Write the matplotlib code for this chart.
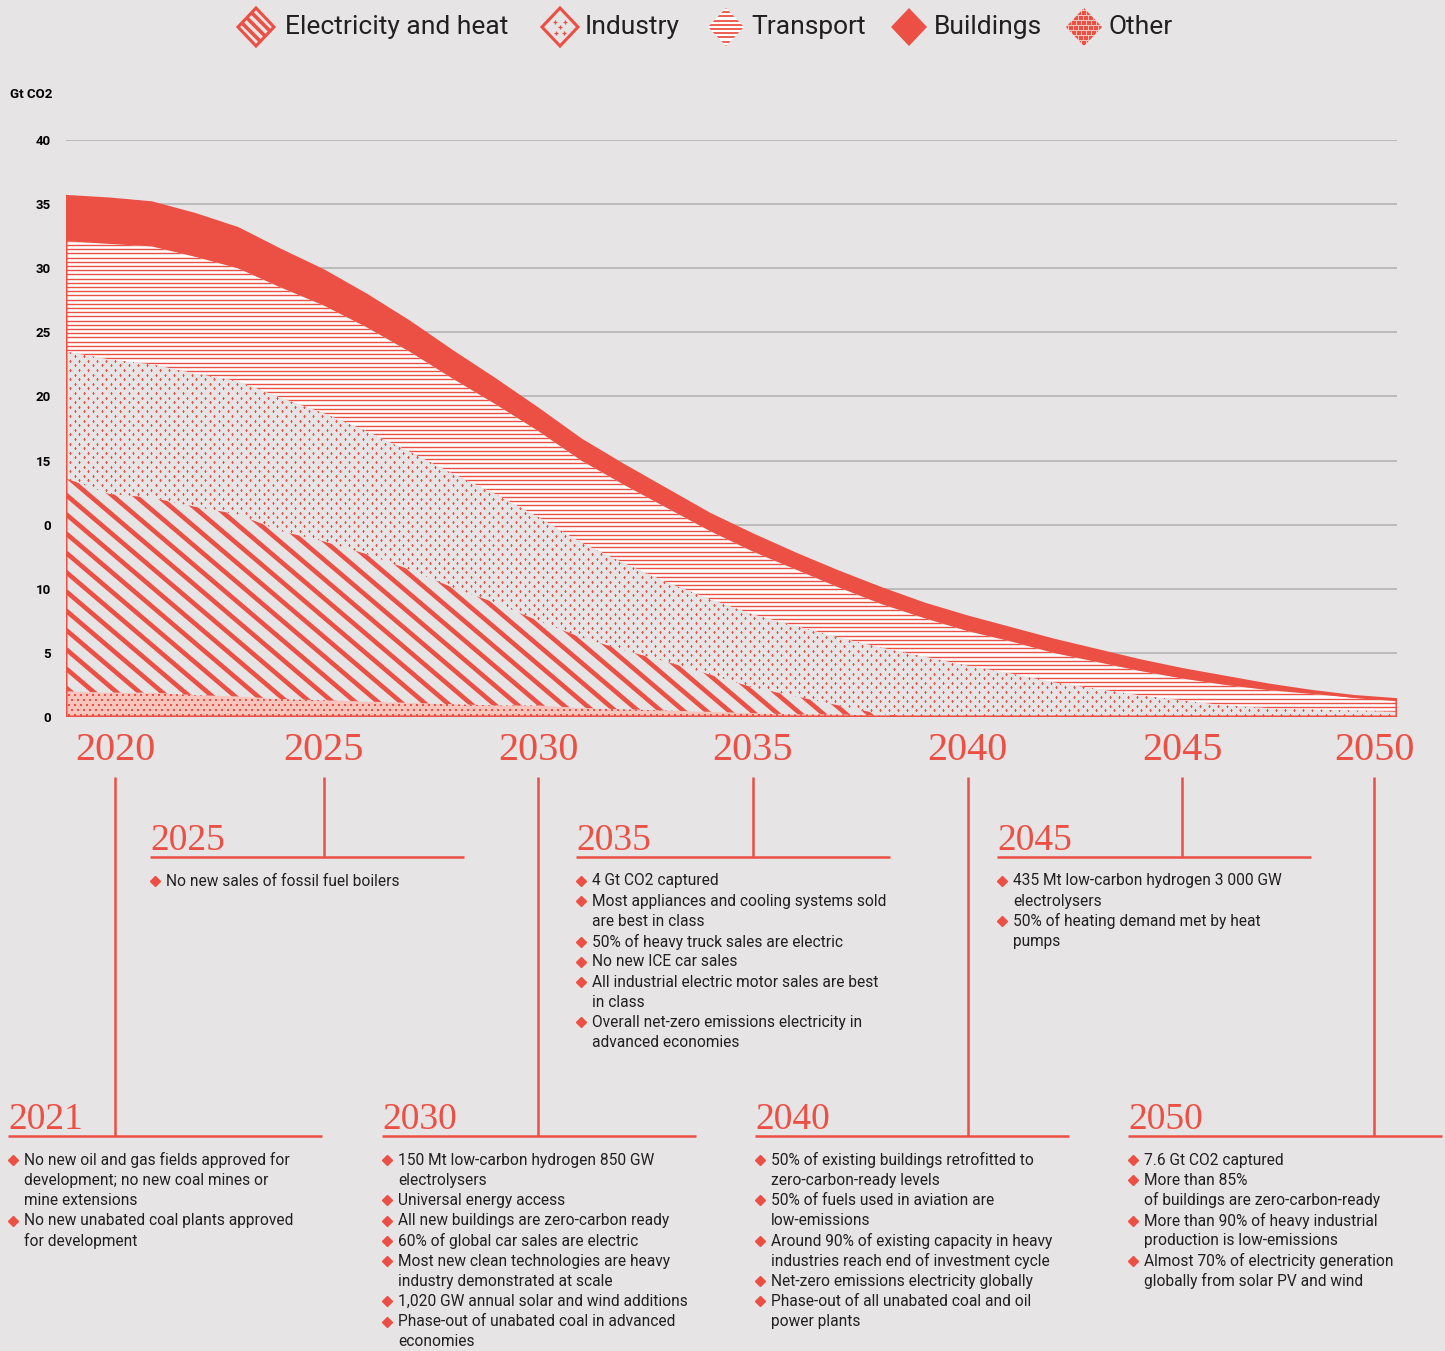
import numpy as np
import matplotlib.pyplot as plt
from matplotlib.patches import Polygon
from matplotlib.collections import LineCollection

W, H = 1445, 1351
RED = '#ec5044'
PINK = '#f8c4bc'
BG = '#e6e4e5'
INK = '#231f20'
GRID = '#b0afb0'

# ---- data (Gt CO2, axis units) ----
years = list(range(2019, 2051))
other = [2.0, 1.9, 1.9, 1.7, 1.6, 1.4, 1.3, 1.2, 1.1, 1.0, 0.9, 0.9, 0.7, 0.6, 0.5, 0.4,
         0.3, 0.2, 0.2, 0.1, 0, 0, 0, 0, 0, 0, 0, 0, 0, 0, 0, 0]
electricity = [16.6, 15.5, 15.2, 14.7, 14.2, 13.1, 12.4, 11.5, 10.4, 9.1, 8.0, 6.6, 5.5, 4.6,
               3.8, 2.9, 2.0, 1.4, 0.7, 0.1, 0, 0, 0, 0, 0, 0, 0, 0, 0, 0, 0, 0]
industry = [9.9, 10.5, 10.4, 10.4, 10.4, 10.4, 10.0, 9.6, 9.2, 8.9, 8.5, 8.1, 7.4, 6.8, 6.2,
            5.9, 5.7, 5.5, 5.3, 5.2, 4.7, 4.0, 3.4, 2.7, 2.2, 1.7, 1.3, 0.9, 0.7, 0.6, 0.5, 0.4]
transport = [8.6, 9.0, 9.2, 9.1, 8.8, 8.6, 8.4, 8.1, 7.8, 7.4, 7.0, 6.7, 6.4, 6.1, 5.8, 5.3,
             4.9, 4.4, 3.9, 3.4, 3.0, 2.7, 2.5, 2.3, 2.1, 1.9, 1.7, 1.6, 1.4, 1.2, 1.0, 0.9]
buildings = [3.5, 3.5, 3.4, 3.3, 3.1, 2.9, 2.7, 2.5, 2.3, 2.1, 1.9, 1.7, 1.6, 1.5, 1.4, 1.3,
             1.3, 1.2, 1.2, 1.2, 1.1, 1.1, 1.0, 1.0, 0.9, 0.8, 0.7, 0.6, 0.4, 0.2, 0.1, 0.05]

legend_names = ['Electricity and heat', 'Industry', 'Transport', 'Buildings', 'Other']
y_ticks = [0, 5, 10, 15, 20, 25, 30, 35, 40, 45]
y_tick_labels = ['0', '5', '10', '0', '15', '20', '25', '30', '35', '40']
milestone_years = [2020, 2025, 2030, 2035, 2040, 2045, 2050]
label_shift = {2020: 6, 2050: -23}   # px nudges of the year labels

# (heading, year tick it hangs from, row, left px, bullets)
blocks = [
    ('2021', 2020, 'low', 8, [
        ['No new oil and gas fields approved for', 'development; no new coal mines or', 'mine extensions'],
        ['No new unabated coal plants approved', 'for development']]),
    ('2025', 2025, 'high', 150, [
        ['No new sales of fossil fuel boilers']]),
    ('2030', 2030, 'low', 382, [
        ['150 Mt low-carbon hydrogen 850 GW', 'electrolysers'],
        ['Universal energy access'],
        ['All new buildings are zero-carbon ready'],
        ['60% of global car sales are electric'],
        ['Most new clean technologies are heavy', 'industry demonstrated at scale'],
        ['1,020 GW annual solar and wind additions'],
        ['Phase-out of unabated coal in advanced', 'economies']]),
    ('2035', 2035, 'high', 576, [
        ['4 Gt CO2 captured'],
        ['Most appliances and cooling systems sold', 'are best in class'],
        ['50% of heavy truck sales are electric'],
        ['No new ICE car sales'],
        ['All industrial electric motor sales are best', 'in class'],
        ['Overall net-zero emissions electricity in', 'advanced economies']]),
    ('2040', 2040, 'low', 755, [
        ['50% of existing buildings retrofitted to', 'zero-carbon-ready levels'],
        ['50% of fuels used in aviation are', 'low-emissions'],
        ['Around 90% of existing capacity in heavy', 'industries reach end of investment cycle'],
        ['Net-zero emissions electricity globally'],
        ['Phase-out of all unabated coal and oil', 'power plants']]),
    ('2045', 2045, 'high', 997, [
        ['435 Mt low-carbon hydrogen 3 000 GW', 'electrolysers'],
        ['50% of heating demand met by heat', 'pumps']]),
    ('2050', 2050, 'low', 1128, [
        ['7.6 Gt CO2 captured'],
        ['More than 85%', 'of buildings are zero-carbon-ready'],
        ['More than 90% of heavy industrial', 'production is low-emissions'],
        ['Almost 70% of electricity generation', 'globally from solar PV and wind']]),
]
row_y = {'high': 857, 'low': 1136}

plt.rcParams['font.family'] = ['Roboto', 'DejaVu Sans']
SERIF = ['Liberation Serif', 'DejaVu Serif']

fig = plt.figure(figsize=(W / 100, H / 100), dpi=100, facecolor=BG)
ax = fig.add_axes([66 / W, 1 - 717 / H, 1331 / W, 577 / H])
ax.set_facecolor(BG)
ov = fig.add_axes([0, 0, 1, 1])
ov.patch.set_visible(False)
ov.axis('off')

# stacked areas
layers = np.array([other, electricity, industry, transport, buildings], dtype=float)
cum = np.vstack([np.zeros(len(years)), np.cumsum(layers, axis=0)])
fills = [PINK, BG, BG, 'white', RED]
polys = []
for i in range(5):
    polys.append(ax.fill_between(years, cum[i], cum[i + 1], facecolor=fills[i],
                                 edgecolor='none', zorder=2))
ax.fill_between(years, 0, cum[-1], facecolor='none', edgecolor=RED, lw=2.2, zorder=4)

ax.set_xlim(2019, 2050)
ax.set_ylim(0, 45)
ax.set_yticks(y_ticks, y_tick_labels)
ax.set_xticks([])
ax.tick_params(axis='y', length=0, pad=11, labelsize=9.5, labelcolor='black')
for lab in ax.get_yticklabels():
    lab.set_fontweight('bold')
ax.grid(axis='y', color=GRID, lw=1.1)
ax.set_axisbelow(True)
for s in ax.spines.values():
    s.set_visible(False)

ov.set_xlim(0, W)
ov.set_ylim(H, 0)


def clip(artist, poly):
    artist.set_clip_path(poly.get_paths()[0], ax.transData)


# patterns, in pixel space of the overlay, clipped to each band
x0, x1, yt, yb = 66, 1397, 140, 717
# other: red squares on pink
gx, gy = np.meshgrid(np.arange(x0, x1 + 6, 6.0), np.arange(yt, yb + 5, 5.0))
gx[1::2] += 3
sc = ov.scatter(gx.ravel(), gy.ravel(), marker='s', s=3.2, c=RED, lw=0, zorder=3)
clip(sc, polys[0])
# electricity: thick diagonal stripes
k = 0.85
segs = [[(x0, c), (x1, c + k * (x1 - x0))] for c in np.arange(yt - k * (x1 - x0), yb + 20, 19.3)]
lc = LineCollection(segs, colors=RED, linewidths=3.3, zorder=3)
ov.add_collection(lc)
clip(lc, polys[1])
# industry: small plus marks
gx, gy = np.meshgrid(np.arange(x0 + 4, x1 + 9, 9.0), np.arange(yt, yb + 5, 4.6))
gx[1::2] += 4.5
sc = ov.scatter(gx.ravel(), gy.ravel(), marker='+', s=4.5, c=RED, lw=0.75, zorder=3)
clip(sc, polys[2])
# transport: thin horizontal lines
segs = [[(x0, c), (x1, c)] for c in np.arange(yt, yb + 5, 4.2)]
lc = LineCollection(segs, colors=RED, linewidths=1.0, zorder=3)
ov.add_collection(lc)
clip(lc, polys[3])

# year labels and timeline
for yr in milestone_years:
    ax.annotate(str(yr), xy=(yr, 0), xycoords=('data', 'axes fraction'),
                xytext=(label_shift.get(yr, 0), -33), textcoords='offset pixels',
                ha='center', va='center', fontsize=29, color=RED, family=SERIF)

for head, yr, row, left, bullets in blocks:
    xl = ax.transData.transform((yr, 0))[0] + label_shift.get(yr, 0)
    ly = row_y[row]
    ov.plot([xl, xl], [777, ly], color=RED, lw=1.8, solid_capstyle='butt')
    ov.plot([left, left + 314], [ly, ly], color=RED, lw=1.8, solid_capstyle='butt')
    ov.text(left, ly - 7, head, ha='left', va='baseline', fontsize=27, color=RED, family=SERIF)
    yy = ly + 24
    for b in bullets:
        ov.plot(left + 5, yy, marker='D', ms=5, color=RED, lw=0)
        for line in b:
            ov.text(left + 16, yy, line, ha='left', va='center', fontsize=11.2, color=INK)
            yy += 20.2

ov.text(10, 95, 'Gt CO2', ha='left', va='center', fontsize=9.5, fontweight='bold', color='black')

# legend
icon_x = [256, 560, 726, 909, 1084]
text_x = [285, 585, 751, 934, 1109]
cy = 27
for name, cx, tx in zip(legend_names, icon_x, text_x):
    verts = [(cx, cy - 19), (cx + 18, cy), (cx, cy + 19), (cx - 18, cy)]
    if name == 'Buildings':
        ov.add_patch(Polygon(verts, closed=True, facecolor=RED, edgecolor='none'))
    elif name == 'Transport':
        d = Polygon(verts, closed=True, facecolor='white', edgecolor='none')
        ov.add_patch(d)
        lc = LineCollection([[(cx - 20, c), (cx + 20, c)] for c in np.arange(cy - 19, cy + 20, 4.2)],
                            colors=RED, linewidths=1.3)
        ov.add_collection(lc)
        lc.set_clip_path(d)
    elif name == 'Other':
        d = Polygon(verts, closed=True, facecolor=PINK, edgecolor='none')
        ov.add_patch(d)
        gx, gy = np.meshgrid(np.arange(cx - 18, cx + 19, 5.0), np.arange(cy - 19, cy + 20, 5.0))
        gx[1::2] += 2.5
        sc = ov.scatter(gx.ravel(), gy.ravel(), marker='s', s=5, c=RED, lw=0)
        sc.set_clip_path(d)
    else:
        d = Polygon(verts, closed=True, facecolor='none', edgecolor=RED, lw=2.2)
        ov.add_patch(d)
        if name == 'Electricity and heat':
            lc = LineCollection([[(cx - 25, c - 25), (cx + 25, c + 25)] for c in np.arange(cy - 20, cy + 21, 10)],
                                colors=RED, linewidths=2.6)
            ov.add_collection(lc)
            lc.set_clip_path(d)
        else:
            ov.scatter([cx - 5, cx + 5, cx, cx - 4, cx + 4], [cy - 5, cy - 5, cy, cy + 6, cy + 6],
                       marker='+', s=8, c=RED, lw=0.9)
    ov.text(tx, cy, name, ha='left', va='center', fontsize=19, color=INK)

ov.set_xlim(0, W)
ov.set_ylim(H, 0)
fig.savefig('out.png', dpi=100, facecolor=BG)
